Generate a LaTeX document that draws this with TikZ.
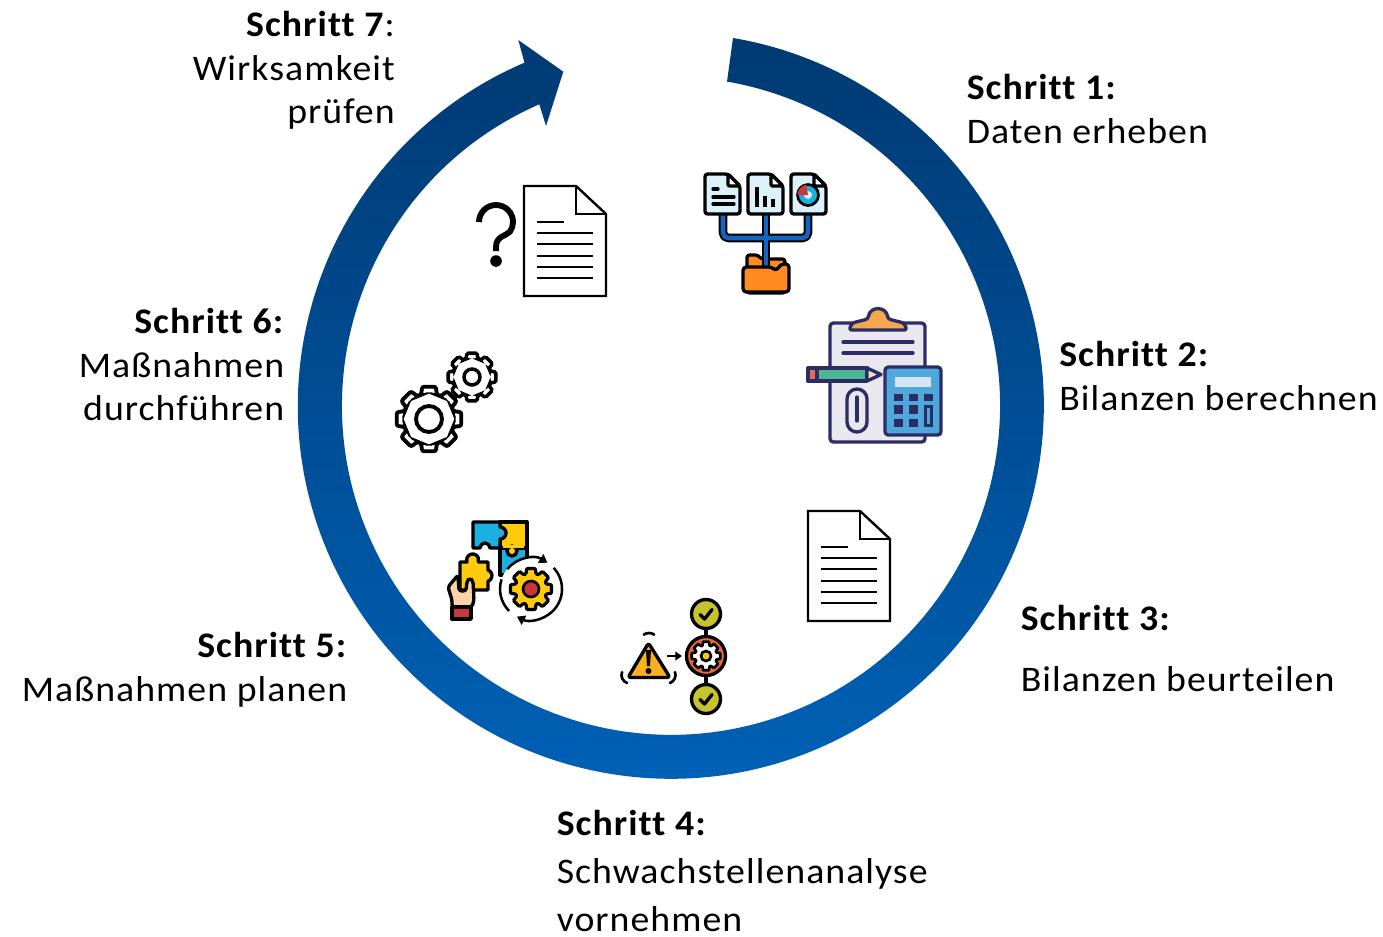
\documentclass[tikz,border=0pt]{standalone}
\usepackage{fontspec}
\setmainfont[FakeStretch=1.05,LetterSpace=2.9,Ligatures=NoCommon]{Carlito}
\usetikzlibrary{arrows.meta}
\definecolor{ringtop}{HTML}{003A73}
\definecolor{ringbot}{HTML}{0062B8}
\definecolor{navy}{HTML}{2B2D64}
\definecolor{paleblue}{HTML}{DDF1FB}
\definecolor{treeblue}{HTML}{1565C0}
\definecolor{folder}{HTML}{FF8A1E}
\definecolor{clipor}{HTML}{F6A94C}
\definecolor{board}{HTML}{E8E8EE}
\definecolor{eraser}{HTML}{E9695C}
\definecolor{pencil}{HTML}{4DB692}
\definecolor{pentip}{HTML}{F5E3C8}
\definecolor{calc}{HTML}{4FA8DC}
\definecolor{screen}{HTML}{D7E5F2}
\definecolor{pzblue}{HTML}{1BB0E0}
\definecolor{pzyellow}{HTML}{FFCB0D}
\definecolor{skin}{HTML}{FBD3A8}
\definecolor{sleeve}{HTML}{C8373C}
\definecolor{warn}{HTML}{FBB01E}
\definecolor{cogred}{HTML}{E8683F}
\definecolor{okgreen}{HTML}{C5C42E}
\tikzset{
  lab/.style={inner sep=0pt,font=\fontsize{27}{32.7}\selectfont,text=black},
  labl/.style={lab,anchor=north west,align=left},
  labr/.style={lab,anchor=north east,align=right},
  ico/.style={line width=2.5pt,line join=round,line cap=round},
  icothin/.style={line width=2pt,line join=round,line cap=round},
  plainline/.style={line width=2.2pt},
  swirl/.style={line width=1.9pt,-{Triangle[length=6pt,width=7.5pt]}},
  pics/cog/.style n args={5}{code={
    \filldraw[fill=#4,line width=#3,rounded corners=#5]
      (-12:#1) -- (12:#1) -- (18:#2)
      \foreach \a in {45,90,...,315}{ -- ({\a-18}:#2) -- ({\a-12}:#1) -- ({\a+12}:#1) -- ({\a+18}:#2) }
      -- (-18:#2) -- cycle;
  }}
}
\newcommand{\fdoc}[2]{%
  \begin{scope}[shift={(#1,#2)}]
    \draw[line width=1.8pt,fill=white,line join=miter] (524,186) -- (576,186) -- (606,214) -- (606,296) -- (524,296) -- cycle;
    \draw[line width=1.8pt] (576,186) -- (576,214) -- (606,214);
    \draw[plainline] (537,222) -- (564,222);
    \foreach \yy in {233,244,256,267,278} \draw[plainline] (537,\yy) -- (593,\yy);
  \end{scope}}
\newcommand{\tinydoc}[1]{%
  \filldraw[ico,fill=paleblue,rounded corners=2pt] (#1,174) -- ({#1+23},174) -- ({#1+35},186) -- ({#1+35},214) -- (#1,214) -- cycle;
  \filldraw[ico,fill=white,rounded corners=1pt] ({#1+23},174) -- ({#1+23},186) -- ({#1+35},186) -- cycle;}
\newcommand{\okmark}[2]{%
  \filldraw[ico,fill=okgreen] (#1,#2) circle[radius=14.5];
  \draw[ico] ({#1-6},{#2+0.5}) -- ({#1-1.5},{#2+5}) -- ({#1+6},{#2-4.5});}
\begin{document}
\begin{tikzpicture}[x=0.75pt,y=0.75pt,yscale=-1]
\useasboundingbox (0,0) rectangle (1383,936);
% ring
\shade[top color=ringtop,bottom color=ringbot]
  (733,38) arc[start angle=-80.4,end angle=246.9,radius=373]
  -- (518.3,40) -- (563.3,71.7) -- (546,126) -- (539.3,104.3)
  arc[start angle=246.4,end angle=-80.2,radius=329] -- cycle;
% labels
\node[labl] (s1) at (966.5,74) {\textbf{Schritt 1:}\\Daten erheben};
\node[labl] (s2) at (1059,341) {\textbf{Schritt 2:}\\Bilanzen berechnen};
\node[labl] (s3) at (1020.5,605) {\textbf{Schritt 3:}\\[12.75pt]Bilanzen beurteilen};
\node[labl,font=\fontsize{27}{36}\selectfont] (s4) at (556.5,810) {\textbf{Schritt 4:}\\Schwachstellenanalyse\\vornehmen};
\node[labr] (s5) at (347.5,632) {\textbf{Schritt 5:}\\Maßnahmen planen};
\node[labr] (s6) at (284.5,308) {\textbf{Schritt 6:}\\Maßnahmen\\durchführen};
\node[labr] (s7) at (395,11) {\textbf{Schritt 7}:\\Wirksamkeit\\prüfen};
% step 1 icon
\draw[line width=6.5pt,line join=round,rounded corners=4pt] (723,214) -- (723,238) -- (808,238) -- (808,214);
\draw[line width=6.5pt] (766,214) -- (766,268);
\draw[line width=3.4pt,treeblue,line join=round,rounded corners=4pt] (723,214) -- (723,238) -- (808,238) -- (808,214);
\filldraw[ico,fill=folder,rounded corners=2pt] (747,293) -- (747,255) -- (758,255) -- (761,259) -- (785,259) -- (785,293) -- cycle;
\draw[line width=6.5pt] (766,255) -- (766,267);
\draw[line width=3.4pt,treeblue] (766,214) -- (766,266);
\filldraw[ico,fill=folder,rounded corners=2.5pt] (743,292) -- (743,267) -- (772,267) -- (776,271) -- (781,264) -- (789,264) -- (789,292) -- cycle;
\tinydoc{705}\tinydoc{748}\tinydoc{791}
\draw[ico] (713,189) -- (718,189) (713,197) -- (734,197) (713,204) -- (734,204);
\draw[line width=2.4pt] (757,187) -- (757,207) (765,196) -- (765,207) (773,199) -- (773,207);
\filldraw[line width=2pt,fill=pzblue] (808,195) circle[radius=10.5];
\fill[paleblue] (808,195) circle[radius=4];
\fill[sleeve] (808,195) -- (797.5,195) arc[start angle=180,end angle=260,radius=10.5] -- cycle;
% step 2 icon
\filldraw[ico,draw=navy,fill=board,rounded corners=2.5pt] (830,323) rectangle (925,442);
\filldraw[ico,draw=navy,fill=clipor,rounded corners=2pt] (849,330) -- (852,323) -- (868,319) .. controls (870,306) and (886,306) .. (888,319) -- (904,323) -- (907,330) -- cycle;
\draw[ico,draw=navy] (843,342) -- (913,342) (843,353) -- (913,353);
\filldraw[ico,draw=navy,fill=pencil] (817,368) rectangle (867,381);
\filldraw[ico,draw=navy,fill=eraser] (808,368) rectangle (817,381);
\filldraw[ico,draw=navy,fill=pentip] (867,368) -- (881,374.5) -- (867,381) -- cycle;
\draw[ico,draw=navy] (847,399) -- (847,422) arc[start angle=180,end angle=0,radius=10] -- (867,399) arc[start angle=0,end angle=-180,radius=10] -- cycle;
\draw[ico,draw=navy] (857,397) -- (857,421);
\filldraw[ico,draw=navy,fill=calc,rounded corners=2.5pt] (885,367) rectangle (941,435);
\fill[screen] (895,377) rectangle (931,387);
\foreach \xx in {893.5,908.5,923.5} \fill[navy] (\xx,394) rectangle ++(9,7);
\foreach \xx in {893.5,908.5} {\fill[navy] (\xx,405) rectangle ++(9,9);\fill[navy] (\xx,419) rectangle ++(9,8);}
\fill[navy] (923.5,405) rectangle ++(9,22);
\fill[calc] (926.5,408) rectangle ++(3,16);
% step 3 doc
\fdoc{284}{325}
% step 7 doc and question mark
\fdoc{0}{0}
\draw[line width=4.4pt] (479,222) arc[start angle=180,end angle=395,radius=17] .. controls (506,236) and (496,236) .. (496,247) -- (496,251);
\fill (496,261) circle[radius=5.8];
% gears
\pic at (429,419) {cog={33}{25.5}{2.9pt}{white}{1.6pt}};
\draw[line width=2.9pt] (429,419) circle[radius=13];
\pic at (472,377) {cog={24.5}{19}{2.6pt}{white}{1.2pt}};
\draw[line width=2.6pt] (472,377) circle[radius=8];
% step 5 icon
\filldraw[ico,fill=pzyellow] (500,522) rectangle (527,548);
\filldraw[ico,fill=pzblue] (500,548) rectangle (527,575);
\filldraw[ico,fill=pzyellow] (512,551) circle[radius=5];
\fill[pzyellow] (503,545) rectangle (524,548);
\filldraw[ico,fill=pzblue] (473,522) -- (500,522) -- (500,527) arc[start angle=-90,end angle=90,radius=6] -- (500,548) -- (490,548) arc[start angle=0,end angle=-180,radius=5] -- (473,548) -- cycle;
\fill[white] (531,589) circle[radius=31];
\filldraw[ico,fill=pzyellow] (463,562) -- (467,562) arc[start angle=160,end angle=380,radius=6] -- (488,562) -- (488,570) arc[start angle=-70,end angle=70,radius=6] -- (488,590) -- (460,590) -- (460,562) -- cycle;
\filldraw[ico,fill=skin,rounded corners=2pt] (448,587) -- (458,575) -- (459,591) -- (466,591) -- (467,581) -- (470,578) -- (473,581) -- (474,600) -- (472,607) -- (452,607) -- (452,600) -- cycle;
\filldraw[ico,fill=sleeve] (452,607) rectangle (471,619);
\pic at (531,589) {cog={21}{16}{2.4pt}{pzyellow}{0.8pt}};
\filldraw[line width=2pt,fill=sleeve] (531,589) circle[radius=8];
\draw[swirl] (531,589) ++(-140:31) arc[start angle=-140,end angle=-58,radius=31];
\draw[swirl] (531,589) ++(-43:31) arc[start angle=-43,end angle=117,radius=31];
\draw[line width=1.9pt] (531,589) ++(135:31) arc[start angle=135,end angle=198,radius=31];
% step 4 icon
\draw[line width=2.4pt] (706,614) -- (706,699);
\okmark{706}{614}
\okmark{706}{699}
\filldraw[ico,fill=cogred] (706,656) circle[radius=19.5];
\pic at (706,656) {cog={14.5}{11}{2pt}{white}{0.4pt}};
\filldraw[line width=2pt,fill=pzyellow] (706,656) circle[radius=5];
\filldraw[ico,fill=warn,rounded corners=2pt] (648.5,643) -- (670,677.5) -- (628,677.5) -- cycle;
\fill (646,650) -- (651,650) -- (650,666) -- (647,666) -- cycle;
\fill (648.5,671) circle[radius=3];
\draw[icothin] (649,642) ++(-125:9) arc[start angle=-125,end angle=-55,radius=9];
\draw[icothin] (630,675) ++(200:8.5) arc[start angle=200,end angle=110,radius=8.5];
\draw[icothin] (667,675) ++(-20:8.5) arc[start angle=-20,end angle=70,radius=8.5];
\draw[line width=2.2pt,-{Triangle[length=5pt,width=6.5pt]}] (667,656) -- (682,656);
\end{tikzpicture}
\end{document}
